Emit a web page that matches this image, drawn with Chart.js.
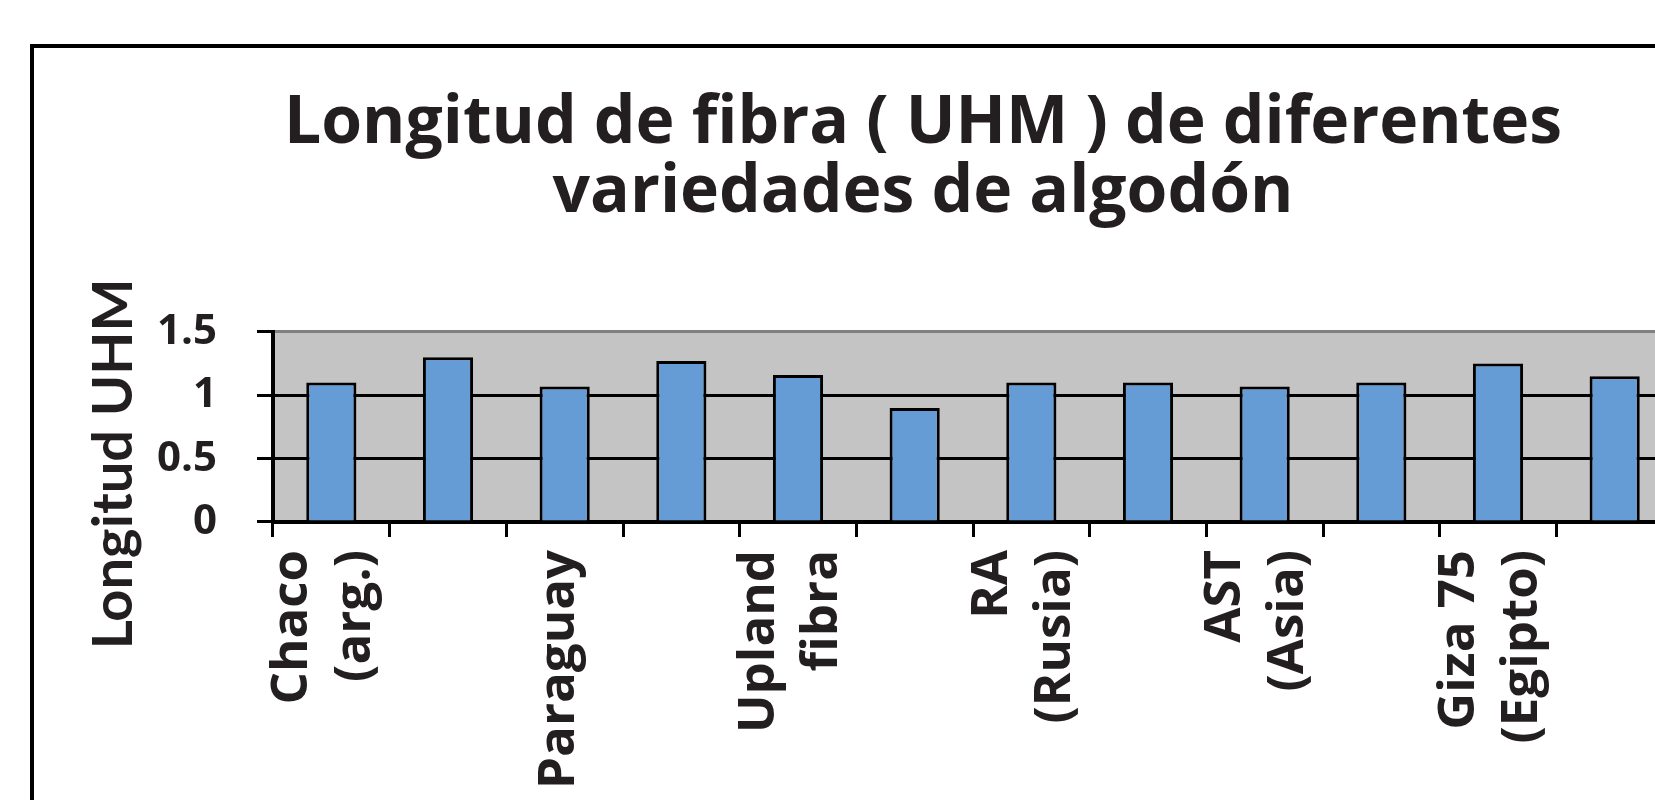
<!DOCTYPE html>
<html>
<head>
<meta charset="utf-8">
<script src="https://cdn.jsdelivr.net/npm/chart.js@4.4.1/dist/chart.umd.min.js"></script>
<style>
  html, body { margin: 0; padding: 0; background: #fff; overflow: hidden; }
  /* the source picture is a crop: the frame runs past the right and bottom edges */
  #frame { position: absolute; left: 30px; top: 44px; width: 1778px; height: 900px; border: 4px solid #000; }
</style>
</head>
<body>
<div id="frame"><canvas id="chart" width="1778" height="900"></canvas></div>
<script>
// Data (only every other category is labelled there)
var categories = [
    ['Chaco', '(arg.)'], '',
    'Paraguay', '',
    ['Upland', 'fibra'], '',
    ['RA', '(Rusia)'], '',
    ['AST', '(Asia)'], '',
    ['Giza 75', '(Egipto)'], ''
];
var uhm = [1.10, 1.30, 1.07, 1.27, 1.16, 0.90, 1.10, 1.10, 1.07, 1.10, 1.25, 1.15];
var yTicks = [0, 0.5, 1, 1.5];

var textColor = '#231F20';

// Grey plot area like the Excel original
var plotBackground = {
    id: 'plotBackground',
    beforeDraw: function(chart) {
        var a = chart.chartArea;
        var ctx = chart.ctx;
        ctx.save();
        ctx.fillStyle = '#C4C4C4';
        ctx.fillRect(a.left, a.top, a.right - a.left, a.bottom - a.top);
        ctx.restore();
    }
};

// Y axis title, sits a bit lower than the plot centre in the original
var yTitle = {
    id: 'yTitle',
    afterDraw: function(chart) {
        var a = chart.chartArea;
        var ctx = chart.ctx;
        ctx.save();
        ctx.translate(98, (a.top + a.bottom) / 2 + 37);
        ctx.rotate(-Math.PI / 2);
        ctx.font = 'bold 56px Lato';
        ctx.fillStyle = textColor;
        ctx.textAlign = 'center';
        ctx.textBaseline = 'alphabetic';
        ctx.fillText('Longitud UHM', 0, 0);
        ctx.restore();
    }
};

var ctx = document.getElementById('chart').getContext('2d');
var myChart = new Chart(ctx, {
    type: 'bar',
    data: {
        labels: categories,
        datasets: [{
            label: 'Longitud UHM',
            data: uhm,
            backgroundColor: '#669CD5',
            borderColor: '#000000',
            borderWidth: 3,
            barPercentage: 0.43,
            categoryPercentage: 1
        }]
    },
    options: {
        responsive: false,
        devicePixelRatio: 1,
        animation: false,
        layout: { padding: 0 },
        plugins: {
            legend: { display: false },
            tooltip: { enabled: false },
            title: {
                display: true,
                text: ['Longitud de fibra ( UHM ) de diferentes', 'variedades de algodón'],
                color: textColor,
                font: { family: 'Open Sans', weight: 'bold', size: 66, lineHeight: 1.045 },
                padding: { top: 41.5, bottom: 104.5 }
            }
        },
        scales: {
            x: {
                afterFit: function(scale) {
                    scale.height = 426;
                    // empty room right of the plot, title still centred on the frame
                    scale.paddingRight = 139;
                },
                border: { display: true, color: '#000', width: 4 },
                grid: {
                    drawOnChartArea: false,
                    drawTicks: true,
                    tickLength: 15,
                    tickColor: '#000',
                    tickWidth: 3,
                    offset: true
                },
                ticks: {
                    autoSkip: false,
                    minRotation: 90,
                    maxRotation: 90,
                    padding: 13,
                    labelOffset: -39,
                    color: textColor,
                    font: function(c) {
                        // single-line labels get a tighter line so they stay on the tick
                        var single = typeof categories[c.index] === 'string';
                        return { family: 'Open Sans', weight: 'bold', size: 51, lineHeight: single ? 0.667 : 1.235 };
                    },
                    callback: function(value, index) {
                        if (index % 2 !== 0) return '';
                        var lab = categories[index];
                        return typeof lab === 'string' ? ['', lab] : lab;
                    }
                }
            },
            y: {
                min: 0,
                max: 1.5,
                afterFit: function(scale) { scale.width = 239; },
                afterBuildTicks: function(scale) {
                    scale.ticks = yTicks.map(function(v) { return { value: v }; });
                },
                border: { display: true, color: '#000', width: 4 },
                grid: {
                    color: function(c) { return c.tick && c.tick.value === 1.5 ? '#808080' : '#000'; },
                    lineWidth: 3,
                    tickColor: '#000',
                    tickLength: 16,
                    tickWidth: 3
                },
                ticks: {
                    padding: 40,
                    color: textColor,
                    font: { family: 'Open Sans', weight: 'bold', size: 42 },
                    callback: function(value) { return String(value); }
                }
            }
        }
    },
    plugins: [plotBackground, yTitle]
});
</script>
</body>
</html>
